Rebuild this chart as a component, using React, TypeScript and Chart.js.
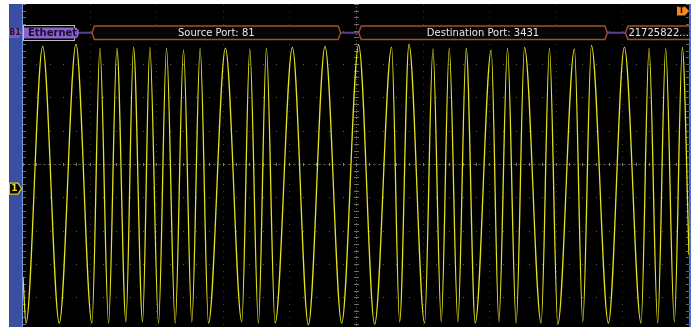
import React, { useEffect, useRef } from "react";
import { Chart, registerables } from "chart.js";

Chart.register(...registerables);

// Time axis in ns (10 divisions of 400 ns), vertical axis in divisions
const timeMin = 0;
const timeMax = 4000;
const levelMin = -4.895;
const levelMax = 4.805;

const gridTimes = [0, 400, 800, 1200, 1600, 2000, 2400, 2800, 3200, 3600, 4000];
const gridLevels = [-4, -3, -2, -1, 0, 1, 2, 3, 4];

const traceStart = [0, -3.39];
const traceEnd = [4000, -2.73];

const troughTimes = [18, 218, 414, 514, 618, 718, 814, 914, 1014, 1114, 1314, 1414, 1514, 1714, 1914,
  2112, 2262, 2412, 2512, 2612, 2716, 2858, 2962, 3112, 3212, 3362, 3516, 3712, 3812, 3912];
const troughLevels = [-4.78, -4.78, -4.78, -4.78, -4.74, -4.74, -4.78, -4.78, -4.74, -4.78, -4.74, -4.78, -4.78, -4.83, -4.78,
  -4.81, -4.74, -4.78, -4.74, -4.74, -4.78, -4.74, -4.78, -4.78, -4.81, -4.74, -4.78, -4.78, -4.78, -4.74];

const peakTimes = [118, 318, 462, 564, 664, 762, 862, 964, 1064, 1216, 1362, 1462, 1618, 1814, 2016,
  2214, 2318, 2462, 2560, 2662, 2812, 2910, 3012, 3162, 3312, 3414, 3612, 3760, 3860, 3960];
const peakLevels = [3.53, 3.60, 3.48, 3.48, 3.51, 3.50, 3.48, 3.43, 3.48, 3.48, 3.46, 3.48, 3.50, 3.53, 3.58,
  3.51, 3.60, 3.46, 3.48, 3.48, 3.42, 3.48, 3.50, 3.48, 3.46, 3.56, 3.51, 3.48, 3.48, 3.50];

const busName = "Ethernet";
const busNameEnd = 336;
const busFieldStart = [414, 2016, 3618];
const busFieldEnd = [1908, 3510, 4200];
const busFieldText = ["Source Port: 81", "Destination Port: 3431", "21725822..."];
const busFieldAlign = ["center", "center", "left"];

const channelLevel = -0.74;

function buildPoints() {
  const pts: { x: number; y: number }[] = [{ x: traceStart[0], y: traceStart[1] }];
  for (let i = 0; i < troughTimes.length; i++) {
    pts.push({ x: troughTimes[i], y: troughLevels[i] });
    pts.push({ x: peakTimes[i], y: peakLevels[i] });
  }
  pts.push({ x: traceEnd[0], y: traceEnd[1] });
  return pts;
}

function hexPath(ctx: CanvasRenderingContext2D, x1: number, x2: number, y1: number, y2: number, n: number) {
  const ym = (y1 + y2) / 2;
  ctx.beginPath();
  ctx.moveTo(x1 + n, y1);
  ctx.lineTo(x2 - n, y1);
  ctx.lineTo(x2, ym);
  ctx.lineTo(x2 - n, y2);
  ctx.lineTo(x1 + n, y2);
  ctx.lineTo(x1, ym);
  ctx.closePath();
}

function pentagon(ctx: CanvasRenderingContext2D, x1: number, x2: number, y1: number, y2: number, tip: number) {
  const ym = (y1 + y2) / 2;
  ctx.beginPath();
  ctx.moveTo(x1, y1);
  ctx.lineTo(x2 - tip, y1);
  ctx.lineTo(x2, ym);
  ctx.lineTo(x2 - tip, y2);
  ctx.lineTo(x1, y2);
  ctx.closePath();
}

const scopePlugin = {
  id: "scope",
  beforeDraw(chart: any) {
    const ctx: CanvasRenderingContext2D = chart.ctx;
    const { left, top, right, bottom } = chart.chartArea;
    const xs = chart.scales.x;
    const ys = chart.scales.y;
    ctx.save();
    ctx.fillStyle = "#ffffff";
    ctx.fillRect(0, 0, chart.width, chart.height);
    ctx.fillStyle = "#000000";
    ctx.fillRect(left, top, right - left, bottom - top);
    // left blue bar
    ctx.fillStyle = "#3a4ea2";
    ctx.fillRect(9, top, left - 9, bottom - top);
    ctx.fillStyle = "#7a9ae0";
    ctx.fillRect(left - 1, top, 1, bottom - top);
    // right edge
    ctx.fillStyle = "#4a6cd4";
    ctx.fillRect(right, top, 2, bottom - top);

    // grid dots
    ctx.fillStyle = "#5c5c5c";
    gridTimes.forEach((t) => {
      const x = Math.round(xs.getPixelForValue(t));
      for (let v = Math.ceil(levelMin / 0.2) * 0.2; v <= levelMax; v += 0.2) {
        if (Math.abs(Math.round(v) - v) < 0.01) {
          const y = Math.round(ys.getPixelForValue(v));
          ctx.fillRect(x, y, 1, 1);
        }
      }
    });
    gridLevels.forEach((v) => {
      const y = Math.round(ys.getPixelForValue(v));
      for (let t = timeMin; t <= timeMax; t += 80) {
        const x = Math.round(xs.getPixelForValue(t));
        ctx.fillRect(x, y, 1, 1);
      }
    });
    // minor dots along vertical grid lines
    ctx.fillStyle = "#3c3c3c";
    gridTimes.forEach((t) => {
      const x = Math.round(xs.getPixelForValue(t));
      for (let v = -4.8; v <= levelMax; v += 0.2) {
        const y = Math.round(ys.getPixelForValue(v));
        ctx.fillRect(x, y, 1, 1);
      }
    });

    // center horizontal line
    const yc = Math.round(ys.getPixelForValue(0)) + 0.5;
    ctx.strokeStyle = "rgba(120,120,95,0.6)";
    ctx.lineWidth = 1;
    ctx.setLineDash([3, 2]);
    ctx.beginPath();
    ctx.moveTo(left, yc);
    ctx.lineTo(right, yc);
    ctx.stroke();
    ctx.setLineDash([]);
    ctx.fillStyle = "#7a7a70";
    for (let t = timeMin; t <= timeMax; t += 80) {
      const x = Math.round(xs.getPixelForValue(t));
      ctx.fillRect(x, yc - 1.5, 1, 3);
    }
    // center vertical line
    const xc = Math.round(xs.getPixelForValue(2000)) + 0.5;
    ctx.strokeStyle = "rgba(120,120,110,0.8)";
    ctx.setLineDash([1, 2]);
    ctx.beginPath();
    ctx.moveTo(xc, top);
    ctx.lineTo(xc, bottom);
    ctx.stroke();
    ctx.setLineDash([]);
    ctx.fillStyle = "#6e6e66";
    for (let v = -4.8; v <= levelMax; v += 0.2) {
      const y = Math.round(ys.getPixelForValue(v));
      ctx.fillRect(xc - 2.5, y, 5, 1);
    }
    // edge ticks
    ctx.fillStyle = "#6a6a6a";
    for (let v = -4.8; v <= levelMax; v += 0.2) {
      const y = Math.round(ys.getPixelForValue(v));
      ctx.fillRect(left, y, 3, 1);
      ctx.fillRect(right - 3, y, 3, 1);
    }
    ctx.restore();
  },
  afterDatasetsDraw(chart: any) {
    const ctx: CanvasRenderingContext2D = chart.ctx;
    const { left, right, bottom } = chart.chartArea;
    const xs = chart.scales.x;
    const ys = chart.scales.y;
    ctx.save();
    const y1 = 26;
    const y2 = 39.5;
    const ym = (y1 + y2) / 2;

    ctx.save();
    ctx.beginPath();
    ctx.rect(left, 0, right - left, bottom);
    ctx.clip();
    // connectors
    ctx.strokeStyle = "#5b3f8e";
    ctx.lineWidth = 2;
    const nameEndX = xs.getPixelForValue(busNameEnd);
    ctx.beginPath();
    ctx.moveTo(nameEndX, ym);
    ctx.lineTo(xs.getPixelForValue(busFieldStart[0]), ym);
    for (let i = 0; i < busFieldStart.length - 1; i++) {
      ctx.moveTo(xs.getPixelForValue(busFieldEnd[i]), ym);
      ctx.lineTo(xs.getPixelForValue(busFieldStart[i + 1]), ym);
    }
    ctx.stroke();

    // fields
    ctx.font = "10px 'DejaVu Sans'";
    ctx.textBaseline = "middle";
    for (let i = 0; i < busFieldStart.length; i++) {
      const a = xs.getPixelForValue(busFieldStart[i]);
      const b = xs.getPixelForValue(busFieldEnd[i]);
      hexPath(ctx, a, b, y1, y2, 2.5);
      ctx.fillStyle = "#060606";
      ctx.fill();
      ctx.strokeStyle = "#a4502c";
      ctx.lineWidth = 1.4;
      ctx.stroke();
      ctx.fillStyle = "#e6e6e6";
      if (busFieldAlign[i] === "center") {
        ctx.textAlign = "center";
        ctx.fillText(busFieldText[i], (a + b) / 2, ym + 0.5);
      } else {
        ctx.textAlign = "left";
        ctx.fillText(busFieldText[i], a + 3, ym + 0.5);
      }
    }

    // bus name
    ctx.strokeStyle = "#bdbdbd";
    ctx.lineWidth = 1;
    ctx.strokeRect(left + 0.5, 25.5, 51, 15);
    const nx = xs.getPixelForValue(busNameEnd);
    ctx.beginPath();
    ctx.moveTo(left + 1, 27.5);
    ctx.lineTo(nx - 5, 27.5);
    ctx.quadraticCurveTo(nx, 27.5, nx, ym);
    ctx.quadraticCurveTo(nx, 38.5, nx - 5, 38.5);
    ctx.lineTo(left + 1, 38.5);
    ctx.closePath();
    ctx.fillStyle = "#8a62c8";
    ctx.fill();
    ctx.fillStyle = "#1c0c38";
    ctx.textAlign = "left";
    ctx.font = "bold 10px 'DejaVu Sans'";
    ctx.fillText(busName, left + 5, ym + 0.5);
    ctx.restore();

    // B1 marker
    pentagon(ctx, 9, 22, 28, 38, 3);
    ctx.fillStyle = "#7c5cbc";
    ctx.fill();
    ctx.fillStyle = "#24143f";
    ctx.font = "bold 8px 'DejaVu Sans'";
    ctx.textAlign = "center";
    ctx.textBaseline = "middle";
    ctx.fillText("B1", 15, 33.3);

    // channel 1 marker
    const yc1 = ys.getPixelForValue(channelLevel);
    pentagon(ctx, 9.5, 21.5, yc1 - 5.5, yc1 + 5.5, 3.5);
    ctx.fillStyle = "#000000";
    ctx.fill();
    ctx.strokeStyle = "#d6d41e";
    ctx.lineWidth = 1.2;
    ctx.stroke();
    ctx.fillStyle = "#e0de24";
    ctx.font = "bold 9px 'DejaVu Sans'";
    ctx.fillText("1", 14.5, yc1 + 0.5);

    // trigger marker
    ctx.beginPath();
    ctx.moveTo(677, 6.5);
    ctx.lineTo(685, 6.5);
    ctx.lineTo(689, 11);
    ctx.lineTo(685, 15.5);
    ctx.lineTo(677, 15.5);
    ctx.closePath();
    ctx.fillStyle = "#f08a22";
    ctx.fill();
    ctx.fillStyle = "#1a0a00";
    ctx.font = "bold 8px 'DejaVu Sans'";
    ctx.fillText("T", 681.5, 11.3);
    ctx.restore();
  },
};

export default function App() {
  const ref = useRef<HTMLCanvasElement>(null);
  useEffect(() => {
    const canvas = ref.current!;
    const chart = new Chart(canvas, {
      type: "line",
      data: {
        datasets: [
          {
            data: buildPoints(),
            borderColor: "#e4e21a",
            borderWidth: 1.3,
            pointRadius: 0,
            cubicInterpolationMode: "monotone",
            fill: false,
          },
        ],
      },
      options: {
        responsive: false,
        maintainAspectRatio: false,
        animation: false,
        events: [],
        layout: { padding: { left: 23, top: 4, right: 5, bottom: 0 } },
        scales: {
          x: { type: "linear", min: timeMin, max: timeMax, display: false },
          y: { type: "linear", min: levelMin, max: levelMax, display: false },
        },
        plugins: { legend: { display: false }, tooltip: { enabled: false } },
      },
      plugins: [scopePlugin],
    });
    return () => chart.destroy();
  }, []);
  return (
    <div style={{ position: "fixed", left: 0, top: 0, width: 694, height: 327, background: "#fff" }}>
      <canvas ref={ref} width={694} height={327} style={{ display: "block", width: 694, height: 327 }} />
    </div>
  );
}
